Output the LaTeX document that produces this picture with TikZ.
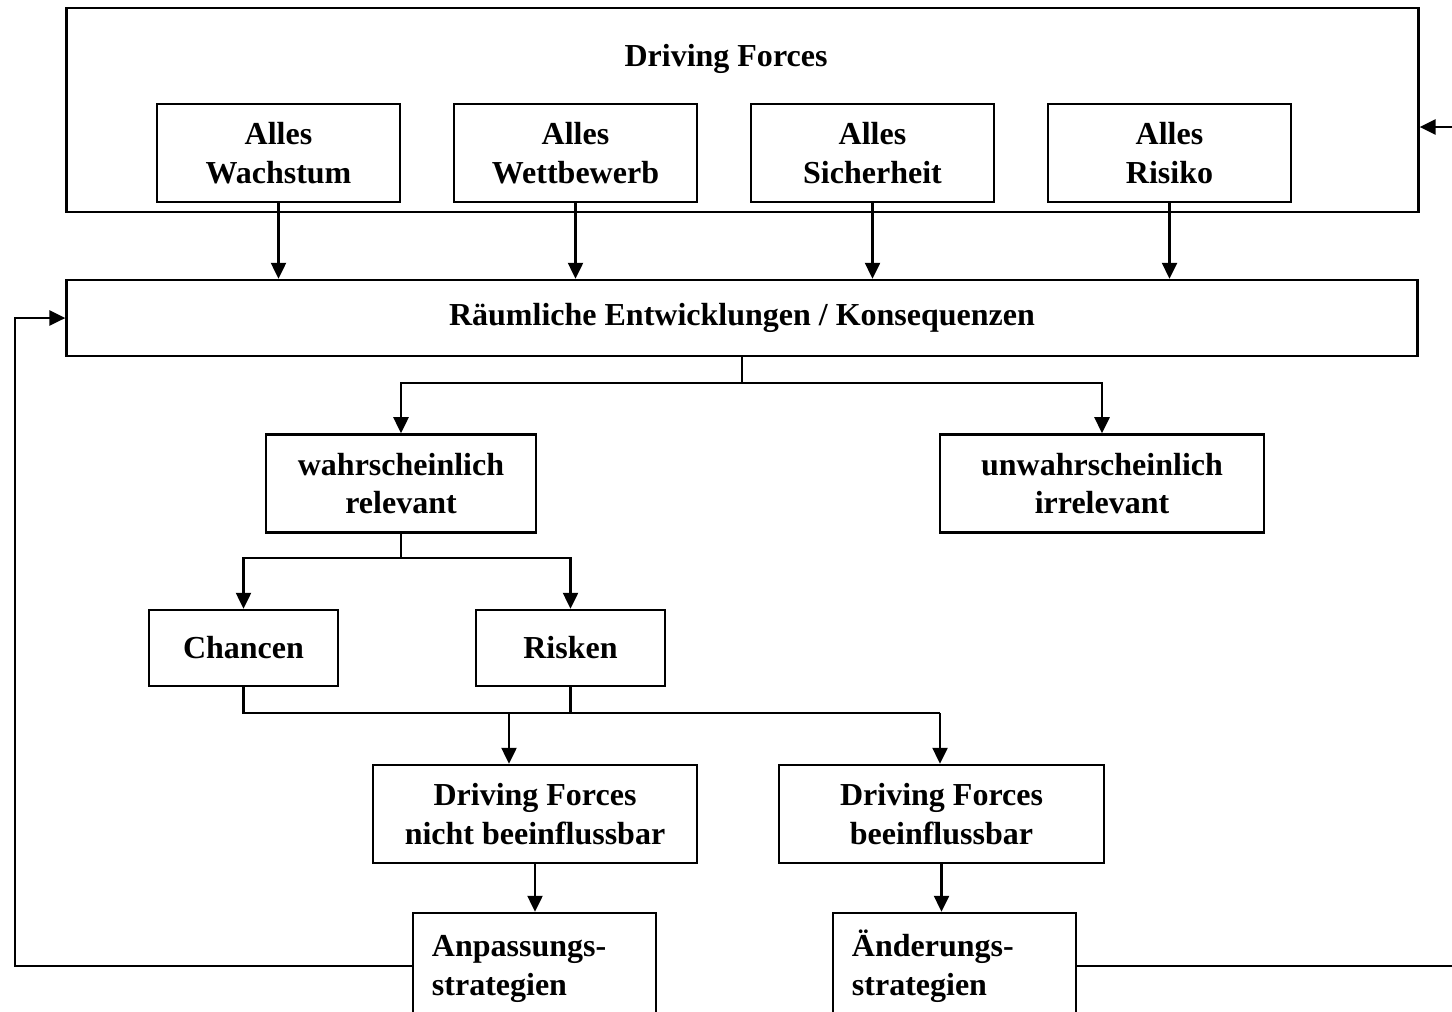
\documentclass[tikz,border=0pt]{standalone}
\usepackage{fontspec}
\setmainfont{Liberation Serif}
\usetikzlibrary{arrows.meta, positioning, calc}

\begin{document}
\begin{tikzpicture}[
    x=0.01cm, y=-0.01cm,
    line width=0.7pt,
    font=\bfseries\fontsize{9.1}{11}\selectfont,
    box/.style={rectangle, draw, inner sep=0pt, align=center, minimum width=#1},
    box/.default=2.43cm,
    tall/.style={minimum height=0.98cm},
    flat/.style={minimum height=0.76cm},
    leftbox/.style={rectangle, draw, inner xsep=0.19cm, inner ysep=0pt, align=left, text width=2.05cm, minimum height=1.06cm},
    arrow/.style={-{Triangle[length=0.16cm, width=0.15cm]}}
]
    \useasboundingbox (0,0) rectangle (1452,1011);

    % driving forces
    \node[box=13.51cm, minimum height=2.04cm] (forces) at (742.5,110) {};
    \node (title) at (726,59) {Driving Forces};
    \node[box, tall] (wachstum) at (278.5,153) {Alles\\Wachstum};
    \node[box, tall] (wettbewerb) at (575.5,153) {Alles\\Wettbewerb};
    \node[box, tall] (sicherheit) at (872.5,153) {Alles\\Sicherheit};
    \node[box, tall] (risiko) at (1169.5,153) {Alles\\Risiko};

    \node[box=13.50cm, flat] (raeum) at (742,318) {Räumliche Entwicklungen / Konsequenzen};

    \node[box=2.70cm, tall] (wahr) at (401,483.5) {wahrscheinlich\\relevant};
    \node[box=3.24cm, tall] (unwahr) at (1102,483.5) {unwahrscheinlich\\irrelevant};

    \node[box=1.89cm, flat] (chancen) at (243.5,648) {Chancen};
    \node[box=1.89cm, flat] (risken) at (570.5,648) {Risken};

    \node[box=3.24cm, tall] (nicht) at (535,814) {Driving Forces\\nicht beeinflussbar};
    \node[box=3.25cm, tall] (beein) at (941.5,814) {Driving Forces\\beeinflussbar};

    \node[leftbox] (anpass) at (534.5,966) {\vphantom{Ä}Anpassungs-\\strategien};
    \node[leftbox] (aender) at (954.5,966) {Änderungs-\\strategien};

    % connectors
    \foreach \n in {wachstum, wettbewerb, sicherheit, risiko}
        \draw[arrow] (\n.south) -- (\n.south |- raeum.north);

    \coordinate (s1) at (742,383);
    \draw (raeum.south) -- (s1);
    \draw[arrow] (s1) -| (wahr.north);
    \draw[arrow] (s1) -| (unwahr.north);

    \coordinate (s2) at (401,558);
    \draw (wahr.south) -- (s2);
    \draw[arrow] (s2) -| (chancen.north);
    \draw[arrow] (s2) -| (risken.north);

    \coordinate (j1) at (509,713);
    \coordinate (j2) at (940,713);
    \draw (chancen.south) |- (j2);
    \draw (risken.south) -- (risken.south |- j1);
    \draw[arrow] (j1) -- (j1 |- nicht.north);
    \draw[arrow] (j2) -- (j2 |- beein.north);

    \draw[arrow] (nicht.south) -- (nicht.south |- anpass.north);
    \draw[arrow] (beein.south) -- (beein.south |- aender.north);

    % feedback loops
    \coordinate (lbend) at (15,318);
    \draw[arrow] (anpass.west) -| (lbend) -- (raeum.west);
    \coordinate (rbend) at (1480,127);
    \draw[arrow] (aender.east) -| (rbend) -- (forces.east |- rbend);
\end{tikzpicture}
\end{document}
